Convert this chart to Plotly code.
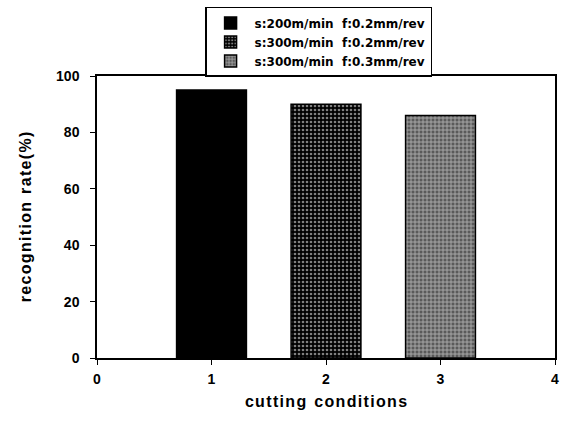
import plotly.graph_objects as go

conditions = [1, 2, 3]
rates = [95, 90, 86]
names = ["s:200m/min  f:0.2mm/rev", "s:300m/min  f:0.2mm/rev", "s:300m/min  f:0.3mm/rev"]
x_ticks = [0, 1, 2, 3, 4]
y_ticks = [0, 20, 40, 60, 80, 100]
x_title = "cutting conditions"
y_title = "recognition rate(%)"


def spaced(s):
    return "\u2002".join("\u200a".join(w) for w in s.split(" "))


patterns = [
    dict(shape="", bgcolor="black"),
    dict(shape=".", bgcolor="black", fgcolor="white", size=4, solidity=0.35, fillmode="overlay"),
    dict(shape="+", bgcolor="#5a5a5a", fgcolor="white", size=4, solidity=0.4, fillmode="overlay"),
]

fig = go.Figure()
for i in range(3):
    fig.add_trace(go.Bar(
        x=[conditions[i]], y=[rates[i]], name=names[i], width=0.61,
        marker=dict(color="black" if i < 2 else "#5a5a5a",
                    line=dict(color="black", width=1.5), pattern=patterns[i]),
    ))

font_family = "Liberation Sans, Arial, sans-serif"
fig.update_layout(
    width=563, height=424,
    margin=dict(l=97, r=8, t=76, b=66, autoexpand=False),
    paper_bgcolor="white", plot_bgcolor="white",
    font=dict(family=font_family, color="black"),
    barmode="overlay",
    legend=dict(
        x=0.236, y=1.245, xanchor="left", yanchor="top",
        bordercolor="black", borderwidth=1.5, bgcolor="white",
        font=dict(size=12, family="DejaVu Sans, sans-serif", weight="bold"),
        tracegroupgap=0, itemwidth=38,
        traceorder="normal",
    ),
    xaxis=dict(
        range=[0, 4.0], tickvals=x_ticks, ticktext=[str(v) for v in x_ticks],
        showline=True, linecolor="black", linewidth=1.5, mirror=True,
        ticks="outside", ticklen=5, tickcolor="black", showgrid=False, zeroline=False,
        tickfont=dict(size=14, weight="bold"), ticklabelstandoff=2,
        title=dict(text=spaced(x_title), font=dict(size=16, weight="bold"), standoff=10),
    ),
    yaxis=dict(
        range=[0, 100], tickvals=y_ticks,
        showline=True, linecolor="black", linewidth=1.5, mirror=True,
        ticks="outside", ticklen=5, tickcolor="black", showgrid=False, zeroline=False,
        tickfont=dict(size=14, weight="bold"), ticklabelstandoff=8,
        title=dict(text=spaced(y_title), font=dict(size=16, weight="bold"), standoff=20),
    ),
)

fig.write_html("out.html", post_script="document.body.style.margin='0px';",
               config={"displayModeBar": False})
